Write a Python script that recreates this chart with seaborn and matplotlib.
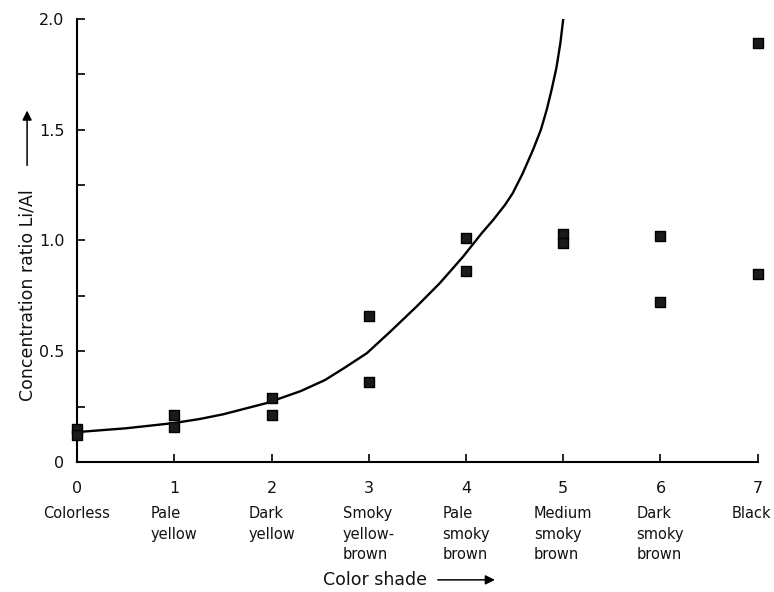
import numpy as np
import pandas as pd
import matplotlib
matplotlib.use("Agg")
import matplotlib.pyplot as plt
import seaborn as sns

# measured points (color shade index, Li/Al ratio)
shade = [0, 0, 1, 1, 2, 2, 3, 3, 4, 4, 5, 5, 6, 6, 7, 7]
ratio = [0.15, 0.12, 0.21, 0.16, 0.29, 0.21, 0.66, 0.36, 1.01, 0.86, 1.03, 0.99, 1.02, 0.72, 1.89, 0.85]

# fitted curve
curve_x = [0, 0.5, 1.0, 1.26, 1.5, 1.95, 2.3, 2.55, 2.75, 2.98, 3.22, 3.49, 3.73, 3.97,
           4.16, 4.28, 4.40, 4.48, 4.58, 4.69, 4.77, 4.83, 4.88, 4.93, 4.97, 5.0]
curve_y = [0.135, 0.152, 0.176, 0.194, 0.215, 0.266, 0.320, 0.370, 0.425, 0.491, 0.588, 0.701, 0.807, 0.927,
           1.032, 1.093, 1.16, 1.213, 1.30, 1.41, 1.50, 1.59, 1.68, 1.78, 1.89, 2.0]

ticks_x = [0, 1, 2, 3, 4, 5, 6, 7]
categories = ["Colorless", "Pale\nyellow", "Dark\nyellow", "Smoky\nyellow-\nbrown",
              "Pale\nsmoky\nbrown", "Medium\nsmoky\nbrown", "Dark\nsmoky\nbrown", "Black"]
ticks_y = [0, 0.5, 1.0, 1.5, 2.0]
ticklabels_y = ["0", "0.5", "1.0", "1.5", "2.0"]

sns.set_style("ticks")
plt.rcParams['font.family'] = ['DejaVu Sans']

fig = plt.figure(figsize=(7.74, 5.92), dpi=100)
ax = fig.add_axes([0.0995, 0.2196, 0.8795, 0.7484])

pts = pd.DataFrame({"shade": shade, "ratio": ratio})
crv = pd.DataFrame({"x": curve_x, "y": curve_y})

sns.lineplot(data=crv, x="x", y="y", ax=ax, color="black", linewidth=1.7)
sns.scatterplot(data=pts, x="shade", y="ratio", ax=ax, marker="s", s=60,
                color="#1a1a1a", edgecolor="black", linewidth=1.0, zorder=3)
for c in ax.collections:
    c.set_clip_on(False)

ax.set_xlim(0, 7)
ax.set_ylim(0, 2.0)
ax.set_xticks(ticks_x)
ax.set_xticklabels([str(t) for t in ticks_x], fontsize=11.5)
ax.set_yticks(ticks_y)
ax.set_yticklabels(ticklabels_y, fontsize=11.5)
ax.set_yticks(np.arange(0.25, 2.0, 0.5), minor=True)
ax.tick_params(axis="both", which="both", direction="in", width=1.2, color="black", labelcolor="#111")
ax.tick_params(axis="x", which="major", length=6, pad=14)
ax.tick_params(axis="y", which="major", length=6, pad=9)
ax.tick_params(axis="y", which="minor", length=6)
sns.despine(ax=ax)
for s in ["left", "bottom"]:
    ax.spines[s].set_linewidth(1.5)
    ax.spines[s].set_color("black")
ax.set_xlabel("")
ax.set_ylabel("")

tr = ax.get_xaxis_transform()
offsets = [0, 0, 0, 0, 0, 0, 0, -0.06]
for x, lab, dx in zip(ticks_x, categories, offsets):
    ax.text(x + dx, -0.1, lab, transform=tr, ha="center", va="top", multialignment="left",
            fontsize=10.5, linespacing=1.45, color="#111")

# axis titles with arrows
fig.text(0.484, 0.0205, "Color shade", ha="center", va="center", fontsize=12.5, color="#111")
fig.add_artist(matplotlib.patches.FancyArrowPatch((0.562, 0.0205), (0.643, 0.0205),
               transform=fig.transFigure, arrowstyle="-|>", mutation_scale=14, color="black", lw=1.1))
fig.text(0.035, 0.502, "Concentration ratio Li/Al", ha="center", va="center", rotation=90,
         fontsize=12.5, color="#111")
fig.add_artist(matplotlib.patches.FancyArrowPatch((0.035, 0.716), (0.035, 0.818),
               transform=fig.transFigure, arrowstyle="-|>", mutation_scale=14, color="black", lw=1.1))

fig.savefig("out.png", dpi=100)
